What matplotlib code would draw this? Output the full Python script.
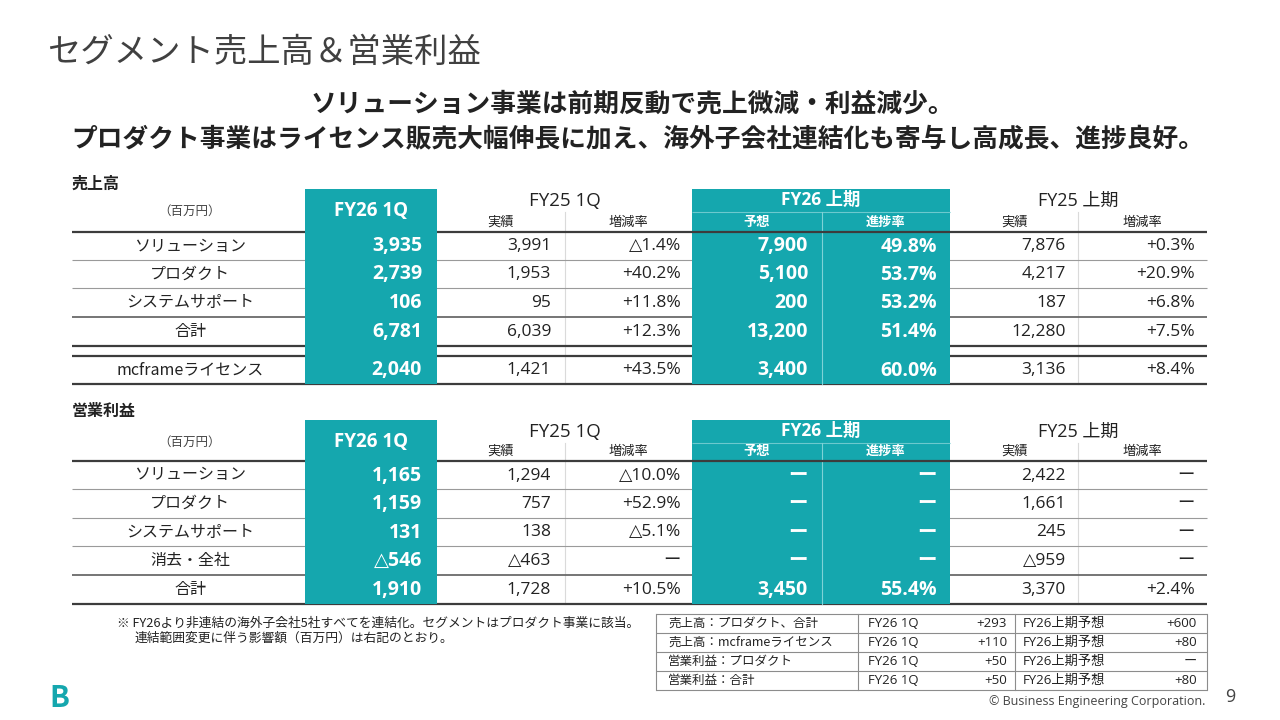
import matplotlib
matplotlib.use('Agg')
import matplotlib.pyplot as plt
from matplotlib.patches import Rectangle

plt.rcParams['font.family'] = ['Noto Sans CJK JP', 'DejaVu Sans']

# fonte para números / latim (com fallback para △ e ー)
NUM_FONT = ['Open Sans', 'DejaVu Sans', 'Noto Sans CJK JP']

TEAL = '#15a7ae'
TEXT = '#222222'
DARK_LINE = '#3c3c3c'
THIN_LINE = '#9a9a9a'

# DATA

title = 'セグメント売上高＆営業利益'
subtitle1 = 'ソリューション事業は前期反動で売上微減・利益減少。'
subtitle2 = 'プロダクト事業はライセンス販売大幅伸長に加え、海外子会社連結化も寄与し高成長、進捗良好。'

uriage_labels = ['ソリューション', 'プロダクト', 'システムサポート', '合計', 'mcframeライセンス']
uriage_fy26_1q = ['3,935', '2,739', '106', '6,781', '2,040']
uriage_fy25_1q = ['3,991', '1,953', '95', '6,039', '1,421']
uriage_fy25_1q_rate = ['△1.4%', '+40.2%', '+11.8%', '+12.3%', '+43.5%']
uriage_fy26_h1_plan = ['7,900', '5,100', '200', '13,200', '3,400']
uriage_fy26_h1_prog = ['49.8%', '53.7%', '53.2%', '51.4%', '60.0%']
uriage_fy25_h1 = ['7,876', '4,217', '187', '12,280', '3,136']
uriage_fy25_h1_rate = ['+0.3%', '+20.9%', '+6.8%', '+7.5%', '+8.4%']

rieki_labels = ['ソリューション', 'プロダクト', 'システムサポート', '消去・全社', '合計']
rieki_fy26_1q = ['1,165', '1,159', '131', '△546', '1,910']
rieki_fy25_1q = ['1,294', '757', '138', '△463', '1,728']
rieki_fy25_1q_rate = ['△10.0%', '+52.9%', '△5.1%', 'ー', '+10.5%']
rieki_fy26_h1_plan = ['ー', 'ー', 'ー', 'ー', '3,450']
rieki_fy26_h1_prog = ['ー', 'ー', 'ー', 'ー', '55.4%']
rieki_fy25_h1 = ['2,422', '1,661', '245', '△959', '3,370']
rieki_fy25_h1_rate = ['ー', 'ー', 'ー', 'ー', '+2.4%']

eikyo_labels = ['売上高：プロダクト、合計', '売上高：mcframeライセンス',
                '営業利益：プロダクト', '営業利益：合計']
eikyo_1q = ['+293', '+110', '+50', '+50']
eikyo_h1 = ['+600', '+80', 'ー', '+80']

note1 = '※ FY26より非連結の海外子会社5社すべてを連結化。セグメントはプロダクト事業に該当。'
note2 = '連結範囲変更に伴う影響額（百万円）は右記のとおり。'


# LAYOUT (pixel coordinates)

X0, X1 = 72, 1207
LABEL_X = 190
TEAL1 = (305, 437)
TEAL2 = (692, 950)
COL_RIGHT = [422, 551, 681, 808, 937, 1066, 1195]


fig = plt.figure(figsize=(12.8, 7.2), dpi=100)
ax = fig.add_axes([0, 0, 1, 1])
ax.set_xlim(0, 1280)
ax.set_ylim(720, 0)
ax.axis('off')


def hline(y, lw, color, x0=X0, x1=X1, z=1):
    ax.plot([x0, x1], [y, y], color=color, lw=lw, zorder=z, solid_capstyle='butt')


def draw_table(top, head_y, bounds, thin, mid, thick, labels, cols):
    bottom = bounds[-1][1]
    # blocos teal
    ax.add_patch(Rectangle((TEAL1[0], top), TEAL1[1] - TEAL1[0], bottom - top,
                           facecolor=TEAL, edgecolor='none', zorder=2))
    ax.add_patch(Rectangle((TEAL2[0], top), TEAL2[1] - TEAL2[0], bottom - top,
                           facecolor=TEAL, edgecolor='none', zorder=2))
    sub_y = top + 23
    hline(sub_y, 0.8, '#6cc9ce', TEAL2[0], TEAL2[1], z=3)
    ax.plot([822, 822], [sub_y, bottom], color='#7fd2d6', lw=0.8, zorder=3)
    for xv in (565, 1078):
        ax.plot([xv, xv], [sub_y, bottom], color='#dadada', lw=0.8, zorder=1)

    # linhas
    for y in thin:
        hline(y, 0.8, THIN_LINE)
    for y in mid:
        hline(y, 1.3, '#6a6a6a')
    for y in thick:
        hline(y, 1.6, DARK_LINE)
    hline(head_y, 1.6, DARK_LINE, TEAL2[0], TEAL2[1], z=3)

    # cabeçalhos
    ax.text(LABEL_X, top + 22, '（百万円）', fontsize=9, color='#444444',
            ha='center', va='center')
    ax.text(sum(TEAL1) / 2, top + 22, 'FY26 1Q', fontsize=13.5, fontweight='bold',
            family=NUM_FONT, color='white', ha='center', va='center', zorder=4)
    ax.text(565, top + 12, 'FY25 1Q', fontsize=13.5, color=TEXT, family=NUM_FONT,
            ha='center', va='center')
    ax.text(sum(TEAL2) / 2, top + 11, 'FY26 上期', fontsize=12.5, fontweight='bold',
            family=['Open Sans', 'Noto Sans CJK JP'],
            color='white', ha='center', va='center', zorder=4)
    ax.text(1078, top + 12, 'FY25 上期', fontsize=13,
            family=['Open Sans', 'Noto Sans CJK JP'], color=TEXT,
            ha='center', va='center')
    subs = [('実績', 501, TEXT, 'normal'), ('増減率', 628, TEXT, 'normal'),
            ('予想', 757, 'white', 'bold'), ('進捗率', 886, 'white', 'bold'),
            ('実績', 1014, TEXT, 'normal'), ('増減率', 1142, TEXT, 'normal')]
    for s, xs, c, w in subs:
        ax.text(xs, head_y - 10, s, fontsize=9.5, color=c, fontweight=w,
                ha='center', va='center', zorder=4)

    # linhas de dados
    for i, (y0, y1) in enumerate(bounds):
        yc = (y0 + y1) / 2
        ax.text(LABEL_X, yc, labels[i], fontsize=11.5, color=TEXT,
                ha='center', va='center')
        for j, col in enumerate(cols):
            teal = j in (0, 3, 4)
            ax.text(COL_RIGHT[j], yc + 0.5, col[i],
                    fontsize=14 if teal else 12.5,
                    fontweight='bold' if teal else 'normal',
                    family=NUM_FONT,
                    color='white' if teal else TEXT,
                    ha='right', va='center', zorder=4)


# TÍTULOS

ax.text(47, 52, title, fontsize=24, color='#404040', ha='left', va='center')
ax.text(632, 104, subtitle1, fontsize=18.5, fontweight='bold', color=TEXT,
        ha='center', va='center')
ax.text(638, 139, subtitle2, fontsize=18.5, fontweight='bold', color=TEXT,
        ha='center', va='center')

# TABELA 1 - 売上高

ax.text(72, 184, '売上高', fontsize=11.5, fontweight='bold', color=TEXT,
        ha='left', va='center')
draw_table(
    top=189, head_y=232,
    bounds=[(232, 260), (260, 288), (288, 317), (317, 346), (356, 384)],
    thin=[260, 288], mid=[317], thick=[232, 346, 356, 384],
    labels=uriage_labels,
    cols=[uriage_fy26_1q, uriage_fy25_1q, uriage_fy25_1q_rate,
          uriage_fy26_h1_plan, uriage_fy26_h1_prog,
          uriage_fy25_h1, uriage_fy25_h1_rate],
)

# TABELA 2 - 営業利益

ax.text(72, 411, '営業利益', fontsize=11.5, fontweight='bold', color=TEXT,
        ha='left', va='center')
draw_table(
    top=420, head_y=461,
    bounds=[(461, 489), (489, 518), (518, 546), (546, 575), (575, 604)],
    thin=[489, 518, 546], mid=[575], thick=[461, 604],
    labels=rieki_labels,
    cols=[rieki_fy26_1q, rieki_fy25_1q, rieki_fy25_1q_rate,
          rieki_fy26_h1_plan, rieki_fy26_h1_prog,
          rieki_fy25_h1, rieki_fy25_h1_rate],
)

# NOTAS

ax.text(117, 623, note1, fontsize=9.2, color=TEXT, ha='left', va='center')
ax.text(135, 638, note2, fontsize=9.2, color=TEXT, ha='left', va='center')

# TABELA PEQUENA - 影響額

st_top, st_h = 614, 19
st_bottom = st_top + st_h * len(eikyo_labels)
for k in range(len(eikyo_labels) + 1):
    hline(st_top + k * st_h, 0.8, '#8c8c8c', 656, 1207)
for xv in (656, 858, 1015, 1207):
    ax.plot([xv, xv], [st_top, st_bottom], color='#8c8c8c', lw=0.8)
for k in range(len(eikyo_labels)):
    yc = st_top + k * st_h + st_h / 2
    ax.text(668, yc, eikyo_labels[k], fontsize=9, color=TEXT, ha='left', va='center')
    ax.text(868, yc, 'FY26 1Q', fontsize=9.5, color=TEXT, family=NUM_FONT,
            ha='left', va='center')
    ax.text(1007, yc, eikyo_1q[k], fontsize=9.5, color=TEXT, family=NUM_FONT,
            ha='right', va='center')
    ax.text(1023, yc, 'FY26上期予想', fontsize=9.5, color=TEXT,
            family=['Open Sans', 'Noto Sans CJK JP'], ha='left', va='center')
    ax.text(1197, yc, eikyo_h1[k], fontsize=9.5, color=TEXT, family=NUM_FONT,
            ha='right', va='center')

# RODAPÉ

ax.text(59, 698, 'B', fontsize=21, fontweight='bold', color=TEAL,
        ha='center', va='center')
ax.text(1205, 701, '© Business Engineering Corporation.', fontsize=9,
        family=NUM_FONT, color='#444444', ha='right', va='center')
ax.text(1230, 697, '9', fontsize=13, color='#444444', family=NUM_FONT,
        ha='center', va='center')

fig.savefig('out.png', dpi=100, facecolor='white')
